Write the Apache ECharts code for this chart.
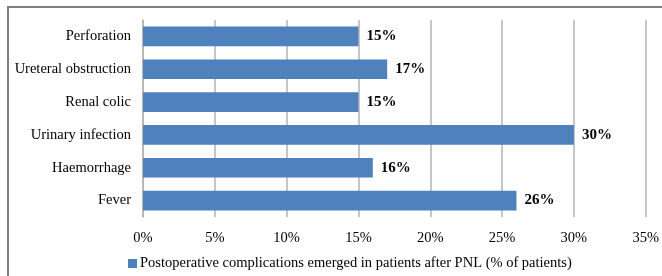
<!DOCTYPE html>
<html>
<head>
<meta charset="utf-8">
<script src="https://cdn.jsdelivr.net/npm/echarts@6/dist/echarts.min.js"></script>
<style>
    html, body { margin: 0; padding: 0; background: #fff; }
    #chart { width: 662px; height: 276px; }
</style>
</head>
<body>
<div id="chart"></div>
<script>
// 从下到上的类别（y 轴 category 从底部开始）
const categories = ['Fever', 'Haemorrhage', 'Urinary infection', 'Renal colic', 'Ureteral obstruction', 'Perforation'];
const complications = [26, 16, 30, 15, 17, 15];
const seriesName = 'Postoperative complications emerged in patients after PNL (% of patients)';

const chart = echarts.init(document.getElementById('chart'));
chart.setOption({
    animation: false,
    textStyle: { fontFamily: 'Liberation Serif' },
    graphic: [{
        type: 'rect',
        shape: { x: 8, y: 7, width: 700, height: 300 },
        style: { fill: 'none', stroke: '#7f7f7f', lineWidth: 2 },
        silent: true
    }],
    grid: { left: 143, right: 15, top: 20, bottom: 59 },
    legend: {
        bottom: 0,
        left: 123,
        icon: 'rect',
        itemWidth: 9,
        itemHeight: 9,
        itemGap: 3,
        textStyle: { fontFamily: 'Liberation Serif', fontSize: 14.5, color: '#000', padding: [0, 0, 0, -2] },
        data: [seriesName]
    },
    xAxis: {
        type: 'value',
        min: 0,
        max: 35,
        interval: 5,
        axisLine: { show: false },
        axisTick: { show: false },
        splitLine: { lineStyle: { color: '#b3b3b3', width: 1.5 } },
        axisLabel: {
            formatter: '{value}%',
            color: '#000',
            fontSize: 14.5,
            margin: 14,
            fontFamily: 'Liberation Serif'
        }
    },
    yAxis: {
        type: 'category',
        data: categories,
        axisLine: { lineStyle: { color: '#b3b3b3', width: 1.5 } },
        axisTick: { show: false },
        axisLabel: { color: '#000', fontSize: 14.5, margin: 12, fontFamily: 'Liberation Serif' }
    },
    series: [{
        name: seriesName,
        type: 'bar',
        data: complications,
        barWidth: '60%',
        itemStyle: { color: '#4f81bd' },
        label: {
            show: true,
            position: 'right',
            distance: 8,
            formatter: '{c}%',
            color: '#000',
            fontWeight: 'bold',
            fontSize: 15,
            fontFamily: 'Liberation Serif'
        }
    }]
});
</script>
</body>
</html>
